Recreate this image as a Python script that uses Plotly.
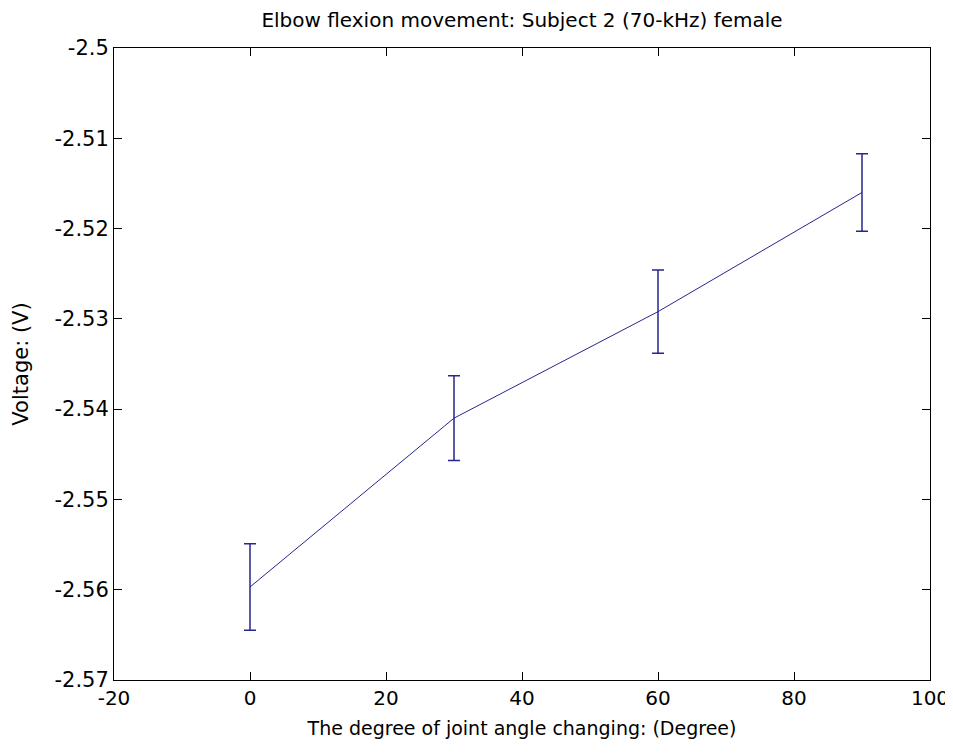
import plotly.graph_objects as go

angles = [0, 30, 60, 90]
voltage = [-2.5597, -2.5410, -2.5292, -2.5160]
err = [0.0048, 0.0047, 0.0046, 0.0043]

x_ticks = [-20, 0, 20, 40, 60, 80, 100]
y_ticks = [-2.57, -2.56, -2.55, -2.54, -2.53, -2.52, -2.51, -2.5]
y_tick_text = ["-2.57", "-2.56", "-2.55", "-2.54", "-2.53", "-2.52", "-2.51", "-2.5"]

FONT = "DejaVu Sans, Liberation Sans, Arial, sans-serif"
LINE = "#26268f"

fig = go.Figure()
fig.add_trace(go.Scatter(
    x=angles, y=voltage, mode="lines",
    line=dict(color=LINE, width=1),
    error_y=dict(type="data", array=err, visible=True, color=LINE, thickness=1.5, width=6),
    showlegend=False,
))

fig.update_layout(
    width=953, height=756,
    margin=dict(l=106, r=31, t=40, b=84),
    paper_bgcolor="white", plot_bgcolor="white",
    font=dict(family=FONT, size=21, color="black"),
    title=dict(text="Elbow flexion movement: Subject 2 (70-kHz) female",
               x=0.5, xref="paper", xanchor="center",
               y=0.984, yref="container", yanchor="middle",
               font=dict(family=FONT, size=20, color="black")),
    xaxis=dict(range=[-20, 100], tickvals=x_ticks, ticktext=[str(v) for v in x_ticks],
               showgrid=False, zeroline=False, showline=True, linecolor="black", linewidth=1,
               mirror="allticks", ticks="inside", ticklen=8, tickcolor="black",
               tickfont=dict(size=20),
               title=dict(text="The degree of joint angle changing: (Degree)", standoff=12,
                          font=dict(size=19))),
    yaxis=dict(range=[-2.57, -2.5], tickvals=y_ticks, ticktext=y_tick_text,
               showgrid=False, zeroline=False, showline=True, linecolor="black", linewidth=1,
               mirror="allticks", ticks="inside", ticklen=8, tickcolor="black",
               tickfont=dict(size=21),
               title=dict(text="Voltage: (V)", standoff=20, font=dict(size=21))),
)

fig.write_html("out.html")
